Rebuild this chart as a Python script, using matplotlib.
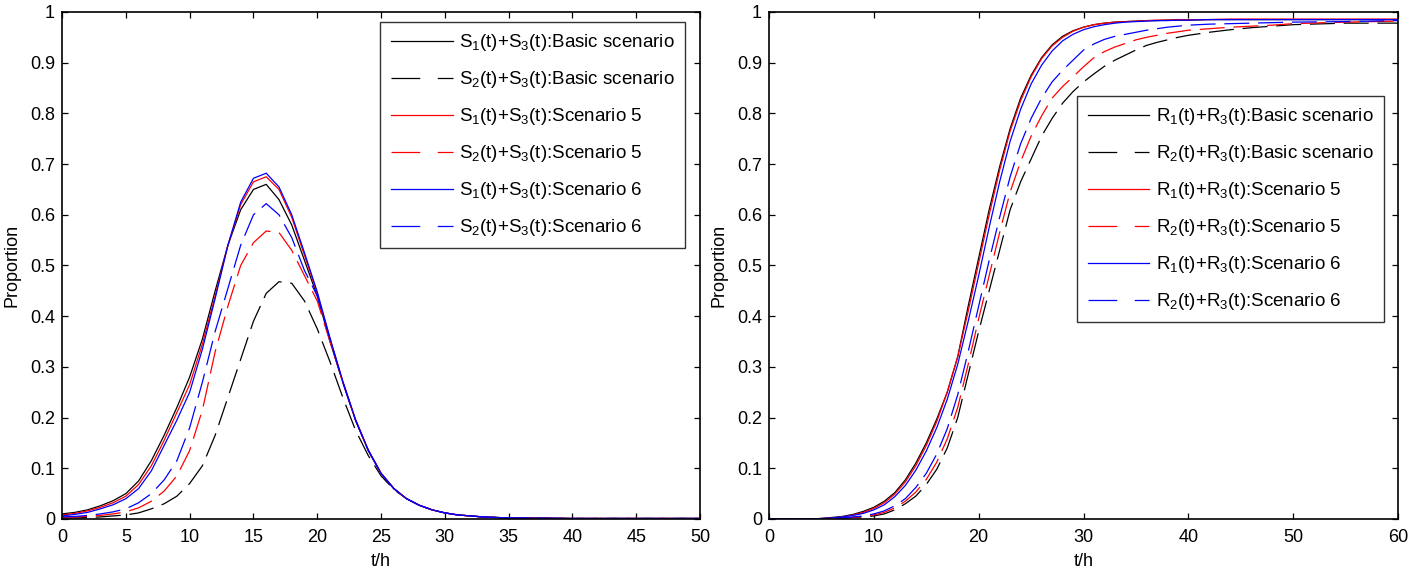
import matplotlib
matplotlib.use("Agg")
import matplotlib.pyplot as plt

plt.rcParams['font.family'] = ['Liberation Sans', 'DejaVu Sans']
plt.rcParams['mathtext.default'] = 'regular'

# left panel: S curves
t1 = list(range(0, 36)) + [40, 45, 50]
s13_basic = [0.010, 0.013, 0.018, 0.026, 0.036, 0.050, 0.075, 0.115, 0.165, 0.220,
             0.280, 0.355, 0.450, 0.540, 0.610, 0.650, 0.660, 0.630, 0.580, 0.510,
             0.440, 0.350, 0.270, 0.195, 0.135, 0.090, 0.060, 0.040, 0.027, 0.018,
             0.012, 0.008, 0.006, 0.004, 0.003, 0.002, 0.001, 0.001, 0.001]
s23_basic = [0.002, 0.002, 0.003, 0.004, 0.006, 0.008, 0.012, 0.020, 0.030, 0.045,
             0.070, 0.105, 0.165, 0.240, 0.315, 0.390, 0.445, 0.468, 0.465, 0.430,
             0.375, 0.310, 0.240, 0.175, 0.125, 0.085, 0.058, 0.040, 0.027, 0.018,
             0.012, 0.008, 0.006, 0.004, 0.003, 0.002, 0.001, 0.001, 0.001]
s13_sc5 = [0.008, 0.011, 0.016, 0.023, 0.032, 0.045, 0.068, 0.105, 0.155, 0.210,
           0.265, 0.345, 0.440, 0.540, 0.620, 0.665, 0.675, 0.650, 0.595, 0.520,
           0.445, 0.355, 0.270, 0.195, 0.135, 0.090, 0.060, 0.040, 0.027, 0.018,
           0.012, 0.008, 0.006, 0.004, 0.003, 0.002, 0.001, 0.001, 0.001]
s23_sc5 = [0.003, 0.004, 0.005, 0.007, 0.010, 0.014, 0.022, 0.035, 0.055, 0.085,
           0.135, 0.215, 0.330, 0.420, 0.500, 0.545, 0.568, 0.565, 0.530, 0.480,
           0.430, 0.350, 0.270, 0.195, 0.135, 0.090, 0.060, 0.040, 0.027, 0.018,
           0.012, 0.008, 0.006, 0.004, 0.003, 0.002, 0.001, 0.001, 0.001]
s13_sc6 = [0.006, 0.009, 0.013, 0.020, 0.028, 0.040, 0.060, 0.095, 0.145, 0.195,
           0.250, 0.335, 0.435, 0.540, 0.625, 0.672, 0.682, 0.655, 0.600, 0.525,
           0.448, 0.357, 0.272, 0.196, 0.136, 0.090, 0.060, 0.040, 0.027, 0.018,
           0.012, 0.008, 0.006, 0.004, 0.003, 0.002, 0.001, 0.001, 0.001]
s23_sc6 = [0.004, 0.005, 0.007, 0.010, 0.014, 0.020, 0.032, 0.050, 0.077, 0.115,
           0.180, 0.270, 0.370, 0.455, 0.540, 0.600, 0.622, 0.600, 0.555, 0.490,
           0.440, 0.355, 0.270, 0.195, 0.135, 0.090, 0.060, 0.040, 0.027, 0.018,
           0.012, 0.008, 0.006, 0.004, 0.003, 0.002, 0.001, 0.001, 0.001]

# right panel: R curves
t2 = list(range(0, 41)) + [42, 44, 46, 48, 50, 55, 60]
r13_basic = [0, 0, 0, 0, 0, 0.001, 0.003, 0.005, 0.009, 0.015,
             0.023, 0.035, 0.052, 0.077, 0.110, 0.150, 0.197, 0.250, 0.320, 0.420,
             0.515, 0.610, 0.695, 0.770, 0.830, 0.875, 0.910, 0.935, 0.952, 0.963,
             0.970, 0.975, 0.978, 0.980, 0.981, 0.982, 0.983, 0.983, 0.984, 0.984,
             0.984, 0.985, 0.985, 0.985, 0.985, 0.985, 0.985, 0.985]
r23_basic = [0, 0, 0, 0, 0, 0, 0.001, 0.002, 0.003, 0.004,
             0.006, 0.010, 0.018, 0.030, 0.045, 0.068, 0.098, 0.140, 0.200, 0.285,
             0.370, 0.450, 0.530, 0.610, 0.665, 0.710, 0.755, 0.790, 0.820, 0.843,
             0.862, 0.878, 0.893, 0.905, 0.915, 0.925, 0.934, 0.940, 0.945, 0.950,
             0.954, 0.960, 0.965, 0.969, 0.972, 0.975, 0.978, 0.978]
r13_sc5 = [0, 0, 0, 0, 0, 0.001, 0.002, 0.004, 0.008, 0.013,
           0.021, 0.032, 0.049, 0.073, 0.105, 0.145, 0.192, 0.250, 0.320, 0.410,
           0.505, 0.600, 0.688, 0.765, 0.825, 0.872, 0.908, 0.933, 0.950, 0.962,
           0.970, 0.975, 0.978, 0.980, 0.981, 0.982, 0.983, 0.984, 0.984, 0.985,
           0.985, 0.985, 0.986, 0.986, 0.986, 0.986, 0.986, 0.986]
r23_sc5 = [0, 0, 0, 0, 0, 0, 0.001, 0.002, 0.003, 0.005,
           0.008, 0.013, 0.022, 0.035, 0.053, 0.078, 0.112, 0.158, 0.220, 0.305,
           0.395, 0.480, 0.565, 0.645, 0.705, 0.755, 0.795, 0.830, 0.853, 0.872,
           0.892, 0.910, 0.922, 0.931, 0.938, 0.945, 0.950, 0.954, 0.958, 0.961,
           0.964, 0.967, 0.970, 0.972, 0.974, 0.977, 0.980, 0.982]
r13_sc6 = [0, 0, 0, 0, 0, 0.001, 0.002, 0.004, 0.007, 0.011,
           0.018, 0.028, 0.044, 0.066, 0.096, 0.134, 0.180, 0.236, 0.305, 0.390,
           0.480, 0.575, 0.665, 0.745, 0.808, 0.858, 0.895, 0.923, 0.943, 0.956,
           0.965, 0.971, 0.975, 0.978, 0.980, 0.981, 0.982, 0.983, 0.983, 0.984,
           0.984, 0.985, 0.985, 0.985, 0.985, 0.985, 0.985, 0.985]
r23_sc6 = [0, 0, 0, 0, 0, 0, 0.001, 0.002, 0.004, 0.006,
           0.010, 0.016, 0.026, 0.040, 0.062, 0.090, 0.128, 0.178, 0.245, 0.330,
           0.420, 0.510, 0.595, 0.675, 0.740, 0.790, 0.830, 0.862, 0.885, 0.905,
           0.925, 0.937, 0.946, 0.952, 0.956, 0.960, 0.964, 0.967, 0.970, 0.972,
           0.974, 0.976, 0.977, 0.978, 0.979, 0.980, 0.981, 0.983]

lab_left = [r'S$_1$(t)+S$_3$(t):Basic scenario', r'S$_2$(t)+S$_3$(t):Basic scenario',
            r'S$_1$(t)+S$_3$(t):Scenario 5', r'S$_2$(t)+S$_3$(t):Scenario 5',
            r'S$_1$(t)+S$_3$(t):Scenario 6', r'S$_2$(t)+S$_3$(t):Scenario 6']
lab_right = [r'R$_1$(t)+R$_3$(t):Basic scenario', r'R$_2$(t)+R$_3$(t):Basic scenario',
             r'R$_1$(t)+R$_3$(t):Scenario 5', r'R$_2$(t)+R$_3$(t):Scenario 5',
             r'R$_1$(t)+R$_3$(t):Scenario 6', r'R$_2$(t)+R$_3$(t):Scenario 6']

fig = plt.figure(figsize=(14.1, 5.68), dpi=100)
ax1 = fig.add_axes([0.044, 0.0863, 0.4525, 0.8926])
ax2 = fig.add_axes([0.5454, 0.0863, 0.4461, 0.8926])

colors = ['k', 'k', 'r', 'r', 'b', 'b']
dashed = [False, True, False, True, False, True]


def draw(ax, t, series, labels, xmax, xticks, anchor):
    for y, c, d, lab in zip(series, colors, dashed, labels):
        line, = ax.plot(t, y, color=c, linewidth=0.9, label=lab)
        if d:
            line.set_dashes((20, 7))
    ax.set_xlim(0, xmax)
    ax.set_ylim(0, 1)
    ax.set_xticks(xticks)
    ax.set_yticks([i / 10 for i in range(11)])
    ax.set_yticklabels(['0'] + ['%.1f' % (i / 10) for i in range(1, 10)] + ['1'])
    ax.tick_params(direction='in', top=True, right=True, length=4.5, width=0.9,
                   labelsize=13, pad=5)
    ax.tick_params(axis='x', pad=7)
    for s in ax.spines.values():
        s.set_linewidth(1.2)
    ax.set_xlabel('t/h', fontsize=13, labelpad=5)
    ax.set_ylabel('Proportion', fontsize=13, labelpad=7)
    leg = ax.legend(loc='upper right', bbox_to_anchor=anchor, fontsize=13.5, frameon=True,
                    fancybox=False, edgecolor='k', handlelength=3.3, labelspacing=0.85,
                    borderpad=0.55, handletextpad=0.35, borderaxespad=0)
    leg.get_frame().set_linewidth(1.0)
    for line, d in zip(leg.get_lines(), dashed):
        if d:
            line.set_dashes((23, 14))


draw(ax1, t1, [s13_basic, s23_basic, s13_sc5, s23_sc5, s13_sc6, s23_sc6], lab_left,
     50, range(0, 51, 5), (0.9765, 0.980))
draw(ax2, t2, [r13_basic, r23_basic, r13_sc5, r23_sc5, r13_sc6, r23_sc6], lab_right,
     60, range(0, 61, 10), (0.9777, 0.834))

fig.savefig('out.png', dpi=100)
